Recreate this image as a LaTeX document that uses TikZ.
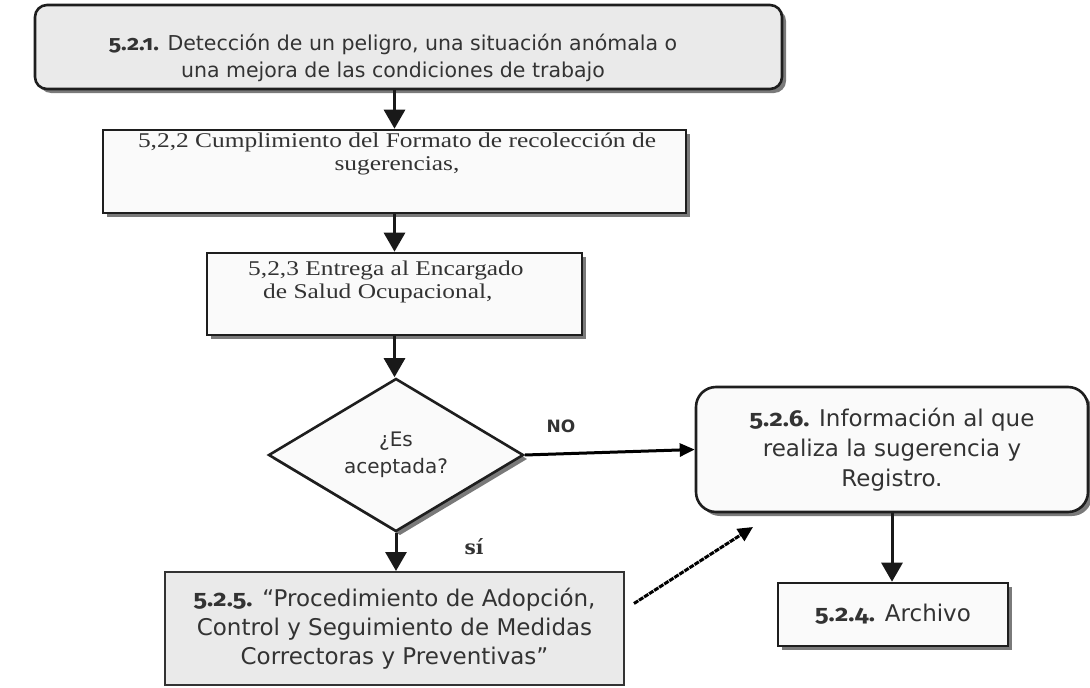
\documentclass[tikz,border=0pt]{standalone}
\usepackage{fontspec}
\setmainfont{DejaVu Sans}
\usetikzlibrary{arrows.meta,shapes.geometric,shadows,calc}
\newfontfamily\verd{DejaVu Sans}
\newfontfamily\bitm{Liberation Serif}[FakeStretch=1.21]
\newfontfamily\numf{Fira Sans}[Numbers=OldStyle, FakeStretch=1.12]
\newfontfamily\serb{DejaVu Serif}
\definecolor{txtc}{HTML}{333333}
\definecolor{edgec}{HTML}{1E1E1E}
\definecolor{shadec}{HTML}{7A7A7A}
\definecolor{gfill}{HTML}{EAEAEA}
\definecolor{wfill}{HTML}{FAFAFA}
\newcommand\snum[2]{{\numf\bfseries\fontsize{#1}{#1}\selectfont #2}}
\begin{document}
\begin{tikzpicture}[x=1pt,y=-1pt,
  box/.style={draw=edgec, line width=2.6pt, fill=wfill, inner sep=0pt,
    drop shadow={shadow xshift=4pt, shadow yshift=-4pt, fill=shadec, opacity=1}},
  txt/.style={text=txtc, inner sep=0pt, align=center},
  arr/.style={draw=black!90, line width=3pt, -{Triangle[length=19pt,width=21pt]}},
  sarr/.style={draw=black, line width=3pt, -{Triangle[length=15pt,width=13pt]}},
  darr/.style={draw=black, line width=3pt, dash pattern=on 5pt off 1pt, -{Triangle[length=15pt,width=14pt]}},
  lbl/.style={text=txtc, inner sep=0pt}
]
\useasboundingbox (0,0) rectangle (1090,688);

% box 1
\node[box, fill=gfill, rounded corners=12pt, minimum width=747pt, minimum height=84pt] (b1) at (408.5,47) {};
\node[txt, font=\verd\fontsize{20.5}{27}\selectfont] (t1) at (393,58)
  {\snum{21}{5.2.1.} Detección de un peligro, una situación anómala o\\una mejora de las condiciones de trabajo};

% box 2
\node[box, minimum width=583pt, minimum height=83pt] (b2) at (394.5,171.5) {};
\node[txt, anchor=north, font=\bitm\fontsize{21}{23}\selectfont] (t2) at (397,133)
  {5,2,2 Cumplimiento del Formato de recolección de\\sugerencias,};

% box 3
\node[box, minimum width=375pt, minimum height=82pt] (b3) at (394.5,294) {};
\node[txt, align=left, anchor=north west, font=\bitm\fontsize{21}{23}\selectfont] (t3) at (248,261)
  {5,2,3 Entrega al Encargado\\\hspace*{15pt}de Salud Ocupacional,};

% decision
\node[box, diamond, minimum width=255pt, minimum height=153pt, text=txtc, align=center,
  font=\verd\fontsize{20}{27}\selectfont] (dia) at (396,455) {¿Es\\aceptada?};

% box 6
\node[box, rounded corners=20pt, minimum width=392pt, minimum height=125pt, text=txtc, align=center,
  font=\verd\fontsize{23}{30}\selectfont] (b6) at (892,449.5)
  {\snum{23}{5.2.6.} Información al que\\realiza la sugerencia y\\Registro.};

% box 5
\node[draw=black!80, line width=2pt, fill=gfill, inner sep=0pt, minimum width=459pt, minimum height=113pt,
  text=txtc, align=center, font=\verd\fontsize{23}{29}\selectfont] (b5) at (394.5,628.5)
  {\snum{23}{5.2.5.} “Procedimiento de Adopción,\\Control y Seguimiento de Medidas\\Correctoras y Preventivas”};

% box 4
\node[box, minimum width=230pt, minimum height=63pt, text=txtc, align=center,
  font=\verd\fontsize{23}{29}\selectfont] (b4) at (893,614.5) {\snum{23}{5.2.4.} Archivo};

% labels
\node[lbl, font=\verd\bfseries\fontsize{17}{17}\selectfont] (no) at (561,426) {NO};
\node[lbl, font=\serb\bfseries\fontsize{20}{20}\selectfont] (si) at (474,547) {sí};

% connectors
\draw[arr] (b1.south -| b2.north) -- (b2.north);
\draw[arr] (b2.south) -- (b3.north);
\draw[arr] (b3.south) -- (b3.south |- dia.north);
\draw[arr] (dia.south) -- (dia.south |- b5.north);
\draw[sarr] (dia.east) -- (b6.west);
\draw[arr] (b6.south) -- (b6.south |- b4.north);
\coordinate (dend) at (753,527);
\draw[darr] ([xshift=9pt,yshift=25pt]b5.east) -- (dend);
\end{tikzpicture}
\end{document}
